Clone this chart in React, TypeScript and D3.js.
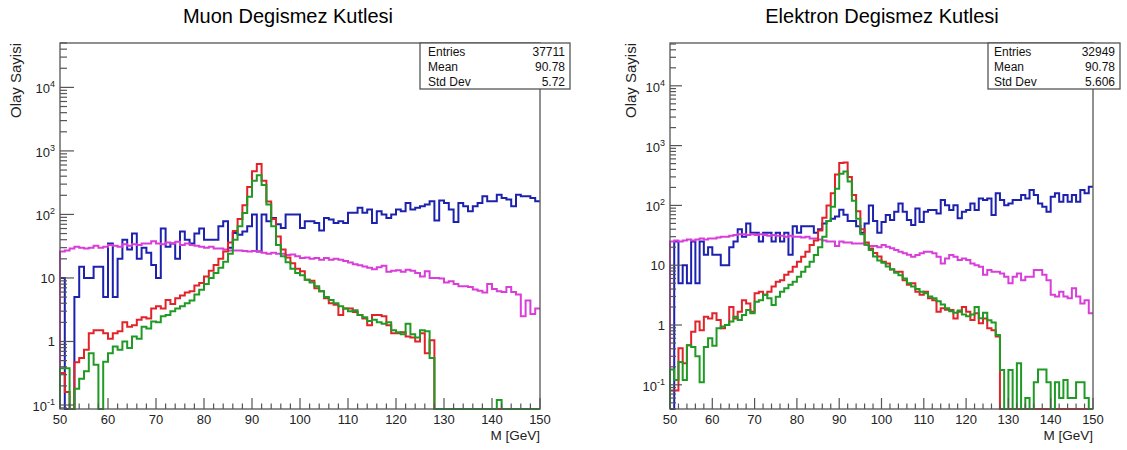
import React from 'react';
import * as d3 from 'd3';

// bin lower edges (1 GeV bins from 50 to 150)
const binLow: number[] = d3.range(50, 150);

// ---------- Muon panel (values per bin 50..149) ----------
const muonBlue: number[] = [
  10, 0, 0, 5, 15, 10, 10, 15, 15, 5,
  35, 5, 20, 40, 28, 50, 20, 30, 25, 16,
  10, 60, 31, 35, 20, 54, 40, 35, 50, 60,
  40, 40, 40, 65, 78, 30, 51, 48, 54, 65,
  100, 26, 100, 78, 88, 70, 61, 100, 100, 100,
  61, 78, 78, 73, 56, 88, 83, 73, 78, 73,
  106, 106, 127, 106, 120, 73, 112, 100, 88, 100,
  120, 112, 152, 120, 127, 135, 143, 161, 80, 165,
  152, 120, 76, 152, 135, 112, 135, 152, 193, 161,
  161, 205, 182, 172, 135, 205, 193, 193, 182, 161,
];
const muonPink: number[] = [
  26, 27, 29, 31, 30, 29, 30, 32, 30, 31,
  33, 32, 31, 34, 32, 34, 33, 35, 35, 38,
  35, 34, 36, 35, 37, 33, 35, 33, 32, 31,
  30, 31, 29, 29, 28, 27, 27, 27, 26.5, 26,
  26.5, 26, 25, 24, 25, 24, 24, 23, 23.5, 22,
  20.6, 21, 20, 20.6, 19.4, 20.6, 19.4, 20, 19.4, 18.5,
  17.5, 16.5, 15.8, 15.2, 14.5, 13.7, 14.8, 15.5, 12.5, 13,
  13.2, 12.5, 13.5, 13, 12, 10.5, 12.7, 10, 10, 9.8,
  8.5, 8.9, 8, 7.4, 7.4, 7.2, 6.6, 6.3, 5.9, 8,
  6.7, 6.2, 6, 7.2, 6, 5.5, 2.5, 4.4, 2.7, 3.3,
];
const muonRed: number[] = [
  0.32, 0.16, 0, 0.47, 0.55, 0.74, 1.35, 1.5, 1.5, 1.35,
  1.1, 1.35, 1.45, 2.0, 1.7, 1.8, 2.2, 2.4, 2.3, 3.3,
  3.6, 3.3, 4.5, 3.9, 4.8, 5.3, 5.9, 6.2, 7.6, 8.3,
  10.5, 13, 16, 20, 26, 36, 55, 85, 140, 270,
  480, 620, 340, 160, 85, 45, 28, 21, 17, 14,
  12.7, 9.4, 9, 6.9, 6.2, 4.8, 4.0, 3.8, 2.6, 3.3,
  3.3, 2.9, 2.6, 2.3, 1.8, 2.6, 2.6, 2.5, 1.8, 1.35,
  1.35, 1.4, 1.2, 1.15, 1.0, 1.35, 0.65, 1.05, 0, 0,
  0, 0, 0, 0, 0, 0, 0, 0, 0, 0,
  0, 0, 0, 0, 0, 0, 0, 0, 0, 0,
];
const muonGreen: number[] = [
  0.38, 0.38, 0, 0.18, 0.26, 0.34, 0.65, 0.43, 0, 0.48,
  0.65, 0.83, 0.74, 1.0, 0.79, 1.2, 1.1, 1.7, 1.6, 2.07,
  2.0, 2.5, 2.6, 3.0, 3.3, 3.6, 4.0, 4.4, 5.5, 6.5,
  8.0, 10, 12, 14.5, 18, 24, 40, 65, 105, 190,
  340, 415, 290, 143, 65, 33, 22, 17.6, 14, 12,
  11, 9.4, 8.5, 7.4, 6.2, 5.0, 4.5, 4.0, 3.6, 3.3,
  3.0, 3.1, 2.6, 2.4, 2.1, 2.2, 2.0, 1.9, 2.0, 1.5,
  1.4, 1.3, 1.9, 1.3, 1.15, 1.5, 1.45, 0.55, 0, 0,
  0, 0, 0, 0, 0, 0, 0, 0, 0, 0,
  0, 0.12, 0, 0, 0, 0, 0, 0, 0, 0,
];

// ---------- Electron panel ----------
const elecBlue: number[] = [
  0, 25, 5, 10, 5, 25, 5, 25, 15, 20,
  15, 15, 10, 10, 20, 25, 40, 30, 50, 35,
  35, 25, 35, 35, 25, 35, 25, 35, 15, 45,
  35, 45, 45, 45, 35, 40, 50, 55, 60, 65,
  85, 70, 55, 55, 45, 35, 50, 100, 55, 35,
  53, 69, 57, 78, 108, 78, 57, 47, 89, 53,
  78, 84, 84, 73, 123, 101, 84, 101, 61, 78,
  84, 108, 84, 131, 123, 131, 69, 159, 123, 101,
  108, 123, 123, 149, 131, 181, 149, 108, 95, 78,
  140, 159, 115, 149, 115, 149, 115, 181, 159, 205,
];
const elecPink: number[] = [
  25, 26, 25, 26, 27, 26, 27, 28, 27, 28,
  28, 29, 30, 30, 31, 32, 33, 33, 32, 33,
  32, 33, 32, 31, 32, 31, 31, 30, 31, 30,
  30, 29, 30, 28, 28, 27, 26, 25, 25, 21,
  25, 24, 24, 23, 23, 23, 22, 21, 21, 20,
  21.7, 20.4, 19.2, 18, 16.8, 15.8, 15, 13.9, 14.8, 15.8,
  16.8, 16.8, 15.8, 13.9, 10.7, 13, 14.8, 13.9, 12.2, 13,
  12.2, 10.7, 10, 9.4, 6.9, 8.3, 7.8, 7.8, 7.3, 6.4,
  5.0, 6.4, 7.3, 5.6, 6.4, 6.4, 8.3, 8.3, 6.9, 5.6,
  3.2, 3.0, 3.6, 3.0, 2.8, 4.1, 3.0, 2.3, 2.6, 1.57,
];
const elecRed: number[] = [
  0.08, 0.08, 0.41, 0.23, 0.46, 0.77, 1.14, 0.82, 1.38, 1.29,
  1.57, 1.21, 0.88, 1.0, 2.0, 1.29, 1.67, 2.6, 2.3, 1.67,
  3.4, 3.6, 3.2, 3.6, 4.4, 5.3, 5.6, 6.9, 7.8, 9.4,
  11.4, 13.9, 16.8, 21.7, 26, 38, 62, 100, 160, 330,
  510, 520, 300, 150, 80, 40, 24, 19, 16, 14,
  11.4, 10.7, 8.5, 7.8, 7.8, 5.6, 4.7, 5.0, 3.6, 3.2,
  3.6, 2.8, 2.6, 1.67, 1.9, 1.8, 1.78, 1.29, 1.67, 2.0,
  1.67, 1.21, 1.57, 1.07, 1.29, 0.88, 0.82, 0.64, 0, 0,
  0, 0, 0, 0, 0, 0, 0, 0, 0, 0,
  0, 0, 0, 0, 0, 0, 0, 0, 0, 0,
];
const elecGreen: number[] = [
  0.18, 0.12, 0.24, 0.12, 0.46, 0.43, 0.3, 0.11, 0.43, 0.6,
  0.45, 0.88, 0.94, 1.0, 1.14, 1.38, 1.21, 1.47, 1.78, 1.57,
  2.45, 2.6, 3.2, 2.8, 2.16, 2.97, 3.6, 4.1, 4.7, 5.3,
  6.4, 7.8, 9.4, 11.4, 14.8, 20, 30, 55, 95, 190,
  340, 370, 250, 120, 60, 33, 22, 18, 14, 12,
  11, 9.5, 8.6, 7.5, 6.8, 6.0, 5.0, 4.4, 4.0, 3.6,
  3.4, 3.0, 2.8, 2.5, 2.2, 1.9, 1.7, 1.6, 1.75, 1.5,
  1.4, 1.5, 2.0, 1.3, 1.6, 1.2, 1.1, 0.68, 0.177, 0,
  0.177, 0, 0.23, 0, 0.06, 0, 0.11, 0.18, 0.18, 0.11,
  0, 0.11, 0.06, 0.12, 0.06, 0.06, 0.11, 0.11, 0.06, 0,
];

const xTickMajor: number[] = [50, 60, 70, 80, 90, 100, 110, 120, 130, 140, 150];
const statsLabels: string[] = ['Entries', 'Mean', 'Std Dev'];
const muonStats: string[] = ['37711', '90.78', '5.72'];
const elecStats: string[] = ['32949', '90.78', '5.606'];

const COLORS = { blue: '#1c22ad', pink: '#d93ed9', red: '#e2232a', green: '#1f9a25' };
const FONT = '"Liberation Sans", Arial, Helvetica, sans-serif';
const AXIS = '#555';

interface PanelProps {
  title: string;
  titleX: number;
  x0: number; x1: number; y0: number; y1: number;
  yMin: number; yMax: number;
  yTickLen: number;
  blue: number[]; pink: number[]; red: number[]; green: number[];
  stats: string[];
  box: { x: number; w: number; tx: number; vx: number };
  yTitleX: number;
}

function Panel(p: PanelProps) {
  const x = d3.scaleLinear().domain([50, 150]).range([p.x0, p.x1]);
  const y = d3.scaleLog().domain([p.yMin, p.yMax]).range([p.y1, p.y0]);
  const yv = (v: number) => (v > p.yMin ? Math.max(p.y0, y(v)) : p.y1);
  const path = (vals: number[]) => {
    let d = `M${x(binLow[0])},${p.y1}`;
    vals.forEach((v, i) => {
      const yy = yv(v);
      d += `L${x(binLow[i])},${yy}L${x(binLow[i] + 1)},${yy}`;
    });
    return d;
  };
  const lo = Math.floor(Math.log10(p.yMin));
  const hi = Math.floor(Math.log10(p.yMax));
  const majors: number[] = [];
  const minors: number[] = [];
  for (let e = lo; e <= hi; e++) {
    const base = Math.pow(10, e);
    if (base >= p.yMin && base <= p.yMax) majors.push(e);
    for (let k = 2; k <= 9; k++) {
      const v = k * base;
      if (v >= p.yMin && v <= p.yMax) minors.push(v);
    }
  }
  const xMinor = d3.range(50, 151, 2).filter((v) => v % 10 !== 0);
  const boxY = p.y0;
  const boxH = 46;
  return (
    <g fontFamily={FONT}>
      <text x={p.titleX} y={23} textAnchor="middle" fontSize={20} fill="#000">{p.title}</text>
      <g fill="none" strokeWidth={2} strokeLinejoin="miter">
        <path d={path(p.blue)} stroke={COLORS.blue} />
        <path d={path(p.pink)} stroke={COLORS.pink} />
        <path d={path(p.red)} stroke={COLORS.red} />
        <path d={path(p.green)} stroke={COLORS.green} />
      </g>
      <rect x={p.x0} y={p.y0} width={p.x1 - p.x0} height={p.y1 - p.y0} fill="none" stroke={AXIS} strokeWidth={1.3} />
      {/* x ticks */}
      {xTickMajor.map((t) => (
        <g key={'xm' + t}>
          <line x1={x(t)} x2={x(t)} y1={p.y1} y2={p.y1 - 11} stroke={AXIS} strokeWidth={1.2} />
          <text x={x(t)} y={p.y1 + 15} textAnchor="middle" fontSize={13} fill="#222">{t}</text>
        </g>
      ))}
      {xMinor.map((t) => (
        <line key={'xn' + t} x1={x(t)} x2={x(t)} y1={p.y1} y2={p.y1 - 5.5} stroke={AXIS} strokeWidth={1.2} />
      ))}
      {/* y ticks */}
      {majors.map((e) => {
        const yy = y(Math.pow(10, e));
        return (
          <g key={'ym' + e}>
            <line x1={p.x0} x2={p.x0 + p.yTickLen} y1={yy} y2={yy} stroke={AXIS} strokeWidth={1.2} />
            {e === 0 || e === 1 ? (
              <text x={p.x0 - 5} y={yy + 5} textAnchor="end" fontSize={13} fill="#222">{e === 0 ? '1' : '10'}</text>
            ) : (
              <text x={p.x0 - 5} y={yy + 6} textAnchor="end" fontSize={13} fill="#222">
                10<tspan dy={-6} fontSize={9}>{String(e)}</tspan>
              </text>
            )}
          </g>
        );
      })}
      {minors.map((v, i) => (
        <line key={'yn' + i} x1={p.x0} x2={p.x0 + p.yTickLen / 2} y1={y(v)} y2={y(v)} stroke={AXIS} strokeWidth={1.2} />
      ))}
      <text x={p.x1} y={440} textAnchor="end" fontSize={13.5} fill="#222">M [GeV]</text>
      <text transform={`translate(${p.yTitleX},${p.y0}) rotate(-90)`} textAnchor="end" fontSize={15} fill="#222">Olay Sayisi</text>
      {/* stats box */}
      <rect x={p.box.x} y={boxY} width={p.box.w} height={boxH} fill="#fff" stroke={AXIS} strokeWidth={1.3} />
      {statsLabels.map((s, i) => (
        <g key={s}>
          <text x={p.box.tx} y={boxY + 13 + i * 15} fontSize={12} fill="#111">{s}</text>
          <text x={p.box.vx} y={boxY + 13 + i * 15} textAnchor="end" fontSize={12} fill="#111">{p.stats[i]}</text>
        </g>
      ))}
    </g>
  );
}

export default function App() {
  return (
    <svg width={1127} height={450} style={{ position: 'absolute', left: 0, top: 0, background: '#fff' }}>
      <rect x={0} y={0} width={1127} height={450} fill="#fff" />
      <Panel
        title="Muon Degismez Kutlesi" titleX={288}
        x0={60} x1={540} y0={43} y1={409}
        yMin={0.0865} yMax={5e4} yTickLen={14}
        blue={muonBlue} pink={muonPink} red={muonRed} green={muonGreen}
        stats={muonStats}
        box={{ x: 420, w: 150, tx: 428, vx: 565 }}
        yTitleX={21}
      />
      <Panel
        title="Elektron Degismez Kutlesi" titleX={882}
        x0={670} x1={1093} y0={43} y1={409}
        yMin={0.0394} yMax={5.2e4} yTickLen={12}
        blue={elecBlue} pink={elecPink} red={elecRed} green={elecGreen}
        stats={elecStats}
        box={{ x: 988, w: 132, tx: 994, vx: 1115 }}
        yTitleX={636}
      />
    </svg>
  );
}
